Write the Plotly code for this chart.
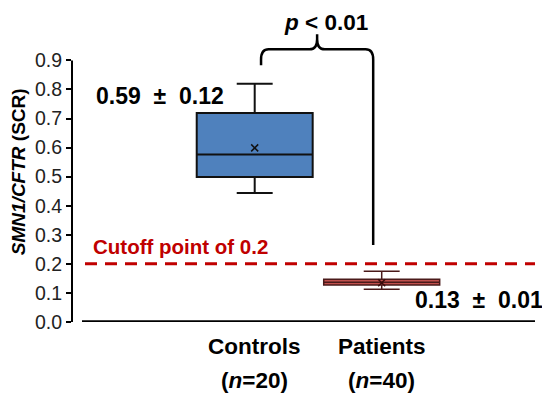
import plotly.graph_objects as go

# ---- data ----
categories = ["Controls", "Patients"]
n_counts = [20, 40]
q1 = [0.499, 0.127]
median = [0.576, 0.137]
q3 = [0.719, 0.147]
lower_whisker = [0.444, 0.113]
upper_whisker = [0.820, 0.175]
means = [0.599, 0.135]
summary_labels = ["0.59\u00a0\u00a0±\u00a0\u00a00.12", "0.13\u00a0\u00a0±\u00a0\u00a00.01"]
cutoff = 0.2
y_ticks = [0.0, 0.1, 0.2, 0.3, 0.4, 0.5, 0.6, 0.7, 0.8, 0.9]
p_label = "<i>p</i> < 0.01"

fill_colors = ["#4f81bd", "#c0504d"]
line_colors = ["#111111", "#4a1a1a"]
FONT = "Liberation Sans, Arial, sans-serif"

# page body has an 8px margin; compensate so the picture lines up
OFF = 8
PX_PER_X = 127.0
PX_PER_Y = 291.0
PLOT_L, PLOT_R, Y0_PX = 72, 535, 322
W, H = 550, 395

xpos = [1, 2]
fig = go.Figure()
for i, cat in enumerate(categories):
    fig.add_trace(go.Box(
        x=[xpos[i]], q1=[q1[i]], median=[median[i]], q3=[q3[i]],
        lowerfence=[lower_whisker[i]], upperfence=[upper_whisker[i]],
        width=0.913, whiskerwidth=0.31, fillcolor=fill_colors[i],
        line=dict(color=line_colors[i], width=2 if i == 0 else 1.5),
        boxpoints=False, showlegend=False, hoverinfo="skip", name=cat))
fig.add_trace(go.Scatter(
    x=xpos, y=means, mode="markers", showlegend=False, hoverinfo="skip",
    marker=dict(symbol="x-thin", size=7, line=dict(color=["#111111", "#3a0a0a"], width=1.5))))

x0 = xpos[0] - (254.7 - PLOT_L) / PX_PER_X
x1 = x0 + (PLOT_R - PLOT_L) / PX_PER_X
ymax = 1.07
top_px = Y0_PX - ymax * PX_PER_Y


def dx(px):
    return x0 + (px - PLOT_L) / PX_PER_X


def dy(py):
    return (Y0_PX - py) / PX_PER_Y


shapes = []
# y axis line (0 to 0.9)
shapes.append(dict(type="line", xref="paper", yref="y", x0=0, x1=0, y0=0, y1=y_ticks[-1],
                   line=dict(color="black", width=2)))
# x axis line
shapes.append(dict(type="line", xref="x", yref="y", x0=dx(82), x1=x1, y0=0.003, y1=0.003,
                   line=dict(color="black", width=2)))
# cutoff dashed line
shapes.append(dict(type="line", xref="x", yref="y", x0=dx(85), x1=x1, y0=cutoff, y1=cutoff,
                   line=dict(color="#c00000", width=3, dash="12px,8px")))
# brace
L = xpos[0] + 0.05
R = xpos[1] - 0.067
M = (L + R) / 2
yh = 0.938
r = 0.035
rx = 0.06
path = (f"M {L},{0.883} L {L},{yh - r} Q {L},{yh} {L + rx},{yh} "
        f"L {M - rx},{yh} Q {M},{yh} {M},{yh + r} L {M},{dy(34)} "
        f"M {M},{yh + r} Q {M},{yh} {M + rx},{yh} "
        f"L {R - rx},{yh} Q {R},{yh} {R},{yh - r} L {R},{0.265}")
shapes.append(dict(type="path", xref="x", yref="y", path=path, line=dict(color="black", width=2.5)))

annotations = []
# category labels
for i, cat in enumerate(categories):
    annotations.append(dict(x=xpos[i], y=0, xref="x", yref="y", yshift=-24, text=f"<b>{cat}</b>",
                            showarrow=False, font=dict(family=FONT, size=22.5, color="black")))
    annotations.append(dict(x=xpos[i], y=0, xref="x", yref="y", yshift=-58,
                            text=f"<b>(<i>n</i>={n_counts[i]})</b>",
                            showarrow=False, font=dict(family=FONT, size=22.5, color="black")))
# summary labels
annotations.append(dict(x=dx(160), y=dy(96), xref="x", yref="y", text=f"<b>{summary_labels[0]}</b>",
                        showarrow=False, font=dict(family=FONT, size=23, color="black")))
annotations.append(dict(x=dx(479), y=dy(300), xref="x", yref="y", text=f"<b>{summary_labels[1]}</b>",
                        showarrow=False, font=dict(family=FONT, size=23, color="black")))
annotations.append(dict(x=dx(326), y=dy(22), xref="x", yref="y", text=f"<b>{p_label}</b>",
                        showarrow=False, font=dict(family=FONT, size=22.5, color="black")))
annotations.append(dict(x=dx(91), y=dy(246), xref="x", yref="y",
                        xanchor="left", text="<b>Cutoff point of 0.2</b>",
                        showarrow=False, font=dict(family=FONT, size=20.5, color="#c00000")))
# y title
plot_w = PLOT_R - PLOT_L
annotations.append(dict(x=(18 - PLOT_L) / plot_w, xref="paper", y=dy(172), yref="y",
                        xanchor="center", yanchor="middle",
                        text="<b><i>SMN1/CFTR</i> (SCR)</b>", textangle=-90, showarrow=False,
                        font=dict(family=FONT, size=19, color="black")))

fig.update_layout(
    width=W, height=H,
    margin=dict(l=PLOT_L - OFF, r=W - (PLOT_R - OFF), t=top_px - OFF, b=H - (Y0_PX - OFF), pad=0),
    plot_bgcolor="white", paper_bgcolor="white",
    xaxis=dict(range=[x0, x1], showgrid=False, zeroline=False, showticklabels=False,
               showline=False, ticks=""),
    yaxis=dict(range=[0, ymax], tickvals=y_ticks, ticktext=[f"{v:.1f}" for v in y_ticks],
               showgrid=False, zeroline=False, showline=False, ticks="outside", ticklen=5,
               tickwidth=2, tickcolor="black",
               tickfont=dict(family=FONT, size=19.5, color="#222222")),
    shapes=shapes, annotations=annotations, showlegend=False,
)
fig.write_html("out.html")
